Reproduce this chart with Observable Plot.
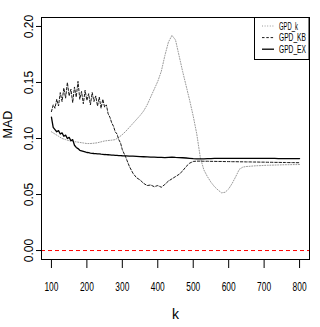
<!DOCTYPE html>
<html>
<head>
<meta charset="utf-8">
<script src="https://cdn.jsdelivr.net/npm/d3@7"></script>
<script src="https://cdn.jsdelivr.net/npm/@observablehq/plot@0.6"></script>
<style>
  html, body { margin: 0; padding: 0; background: #fff; }
  #chart { width: 320px; height: 327px; }
</style>
</head>
<body>
<div id="chart"></div>
<script>
// ---- data ----
const kA = [100,110,120,130,140,150,160,170,180,190,200,210,220,230,240,250,260,270,280,290,300,310,320,330,340,350,360,370,380,390,400,410,420,430,440,450,460,470,480,490,500,510,520,530,540,550,560,570,580,590,600,610,620,630,640,650,660,670,680,690,700,710,720,730,740,750,760,770,780,790,800];
const gpdK = [0.106,0.104,0.102,0.100,0.099,0.098,0.0975,0.097,0.0965,0.096,0.0955,0.0955,0.0958,0.0962,0.0970,0.0978,0.0982,0.0985,0.0990,0.1010,0.1035,0.1065,0.1100,0.1135,0.1170,0.1205,0.1245,0.1300,0.1370,0.1440,0.1510,0.1600,0.1740,0.1860,0.1920,0.1880,0.1740,0.1600,0.1470,0.1340,0.1200,0.1040,0.0830,0.0720,0.0660,0.0610,0.0570,0.0540,0.0515,0.0520,0.0550,0.0600,0.0660,0.0725,0.0745,0.0750,0.0752,0.0755,0.0757,0.0758,0.0760,0.0761,0.0762,0.0763,0.0764,0.0765,0.0766,0.0766,0.0767,0.0767,0.0768];

const kB = [100,105,110,115,120,125,130,135,140,145,150,155,160,165,170,175,180,185,190,195,200,205,210,215,220,225,230,235,240,245,250,255,260,265,270,275,280,285,290,295,300,310,320,330,340,350,360,370,380,390,400,410,420,430,440,450,460,470,480,490,500,510,520,530,540,550,560,570,580,590,600,610,620,630,640,650,660,670,680,690,700,710,720,730,740,750,760,770,780,790,800];
const gpdKB = [0.124,0.130,0.127,0.135,0.129,0.141,0.133,0.145,0.136,0.150,0.138,0.144,0.132,0.146,0.137,0.151,0.135,0.142,0.131,0.143,0.134,0.140,0.130,0.141,0.133,0.138,0.129,0.137,0.127,0.135,0.128,0.130,0.122,0.119,0.114,0.111,0.106,0.104,0.099,0.096,0.090,
  0.083,0.075,0.069,0.065,0.063,0.060,0.058,0.0585,0.057,0.058,0.0565,0.059,0.062,0.064,0.066,0.068,0.071,0.075,0.078,0.0795,0.0798,0.0798,0.0797,0.0797,0.0796,0.0796,0.0795,0.0795,0.0794,0.0794,0.0793,0.0793,0.0792,0.0792,0.0791,0.0791,0.0790,0.0790,0.0789,0.0789,0.0788,0.0788,0.0787,0.0787,0.0786,0.0786,0.0785,0.0785,0.0784,0.0784];
const gpdEX = [0.119,0.110,0.108,0.106,0.107,0.104,0.105,0.102,0.103,0.100,0.101,0.098,0.099,0.094,0.092,0.091,0.0895,0.089,0.0885,0.088,0.0875,0.0873,0.0870,0.0868,0.0866,0.0865,0.0863,0.0862,0.0860,0.0859,0.0857,0.0856,0.0855,0.0854,0.0852,0.0851,0.0850,0.0849,0.0848,0.0847,0.0846,
  0.0845,0.0843,0.0842,0.0840,0.0838,0.0837,0.0836,0.0834,0.0833,0.0832,0.0831,0.0830,0.0832,0.0833,0.0831,0.0830,0.0828,0.0826,0.0823,0.0820,0.0819,0.0818,0.0819,0.0820,0.0821,0.0822,0.0822,0.0823,0.0823,0.0823,0.0823,0.0823,0.0823,0.0823,0.0823,0.0823,0.0822,0.0822,0.0822,0.0822,0.0822,0.0822,0.0822,0.0821,0.0821,0.0821,0.0821,0.0821,0.0821,0.0821];

const xTicks = [100,200,300,400,500,600,700,800];
const yTicks = [0.00,0.05,0.10,0.15,0.20];
const seriesNames = ["GPD_k","GPD_KB","GPD_EX"];
const refLine = [0];

// ---- tables ----
const rowsK = kA.map((k, i) => ({k, v: gpdK[i]}));
const rowsKB = kB.map((k, i) => ({k, v: gpdKB[i]}));
const rowsEX = kB.map((k, i) => ({k, v: gpdEX[i]}));

const styles = [
  {stroke: "#9a9a9a", dash: "1,1.6", width: 1},
  {stroke: "#1a1a1a", dash: "2.5,1.8", width: 1},
  {stroke: "#000", dash: null, width: 1.3}
];

const narrow = "'Liberation Sans Narrow', 'Arial Narrow', 'Liberation Sans', sans-serif";

const svg = Plot.plot({
  width: 320,
  height: 327,
  marginLeft: 41,
  marginRight: 11,
  marginTop: 17,
  marginBottom: 68,
  style: {fontFamily: "'Liberation Sans', Arial, sans-serif", background: "#fff"},
  x: {domain: [72, 828]},
  y: {domain: [-0.008, 0.208]},
  marks: [
    Plot.ruleY(refLine, {stroke: "#ff0000", strokeDasharray: "4,3", strokeWidth: 1}),
    Plot.line(rowsK, {x: "k", y: "v", stroke: styles[0].stroke, strokeDasharray: styles[0].dash, strokeWidth: styles[0].width}),
    Plot.line(rowsKB, {x: "k", y: "v", stroke: styles[1].stroke, strokeDasharray: styles[1].dash, strokeWidth: styles[1].width}),
    Plot.line(rowsEX, {x: "k", y: "v", stroke: styles[2].stroke, strokeWidth: styles[2].width}),
    Plot.frame({stroke: "#000"}),
    Plot.axisX({ticks: xTicks, tickSize: 9, tickPadding: 13, label: null, fontSize: 13, tickFormat: d => String(d)}),
    Plot.axisY({ticks: yTicks, tickSize: 5, tickRotate: -90, tickPadding: 4, label: null, fontSize: 12, tickFormat: d3.format(".2f")}),
    Plot.text(["MAD"], {frameAnchor: "left", dx: -34, rotate: -90, fontSize: 12.5, fill: "#000"}),
    Plot.text(["k"], {frameAnchor: "bottom", dy: 59, fontSize: 14, fontFamily: narrow, fill: "#000"})
  ]
});

const s = d3.select(svg);
s.selectAll('[aria-label="x-axis tick label"] text')
  .style("font-family", narrow)
  .attr("textLength", 14)
  .attr("lengthAdjust", "spacingAndGlyphs");

// legend
const lg = s.append("g").attr("font-family", narrow).attr("font-size", 11).attr("text-anchor", "start");
lg.append("rect").attr("x", 254.5).attr("y", 17.5).attr("width", 54.5).attr("height", 42)
  .attr("fill", "#fff").attr("stroke", "#000");
const lw = [19, 27, 27];
seriesNames.forEach((name, i) => {
  const y = 26 + i * 11.6;
  lg.append("line").attr("x1", 262).attr("x2", 274).attr("y1", y).attr("y2", y)
    .attr("stroke", styles[i].stroke).attr("stroke-width", styles[i].width)
    .attr("stroke-dasharray", styles[i].dash);
  const t = lg.append("text").attr("x", 0).attr("y", 0).attr("dy", "0.35em").text(name)
    .style("text-anchor", "start");
  const natural = t.node().getComputedTextLength ? null : null;
  t.attr("data-w", lw[i]);
});

document.getElementById("chart").appendChild(svg);

// scale legend texts horizontally to the reference widths (after layout)
lg.selectAll("text").each(function(d, i) {
  const w = this.getComputedTextLength() || lw[i];
  const sx = Math.min(1, lw[i] / w);
  const y = 26 + i * 11.6;
  d3.select(this).attr("transform", `translate(279,${y}) scale(${sx},1)`);
});
</script>
</body>
</html>
